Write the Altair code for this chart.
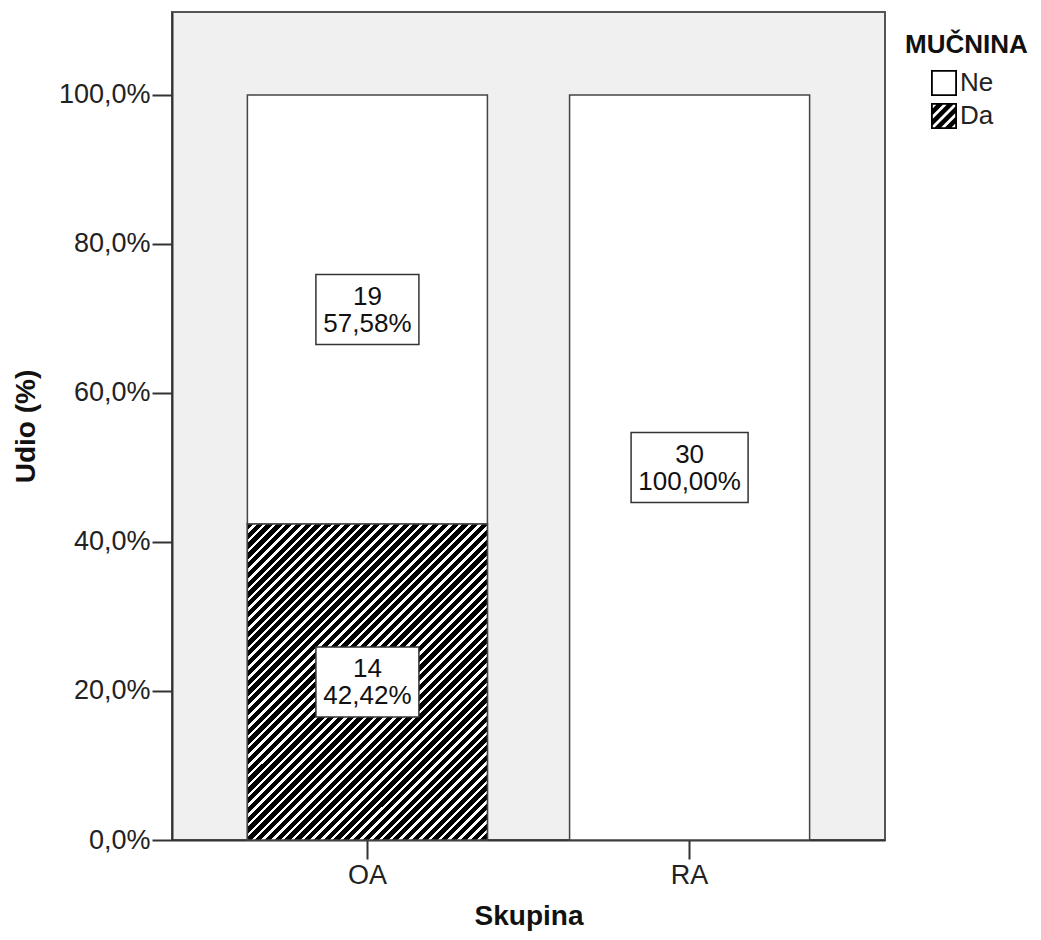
import altair as alt
import pandas as pd

# ---- data ----
groups = ["OA", "OA", "RA", "RA"]
categories = ["Ne", "Da", "Ne", "Da"]
counts = [19, 14, 30, 0]
percents = [57.58, 42.42, 100.00, 0.00]
legend_items = ["Ne", "Da"]
y_ticks = [0, 20, 40, 60, 80, 100]

df = pd.DataFrame({"Skupina": groups, "cat": categories, "count": counts, "pct": percents})
df["order"] = df["cat"].map({"Da": 0, "Ne": 1})
df = df.sort_values(["Skupina", "order"]).reset_index(drop=True)
df["y1"] = df.groupby("Skupina")["pct"].cumsum()
df["y0"] = df["y1"] - df["pct"]
df["mid"] = (df["y0"] + df["y1"]) / 2
df["label"] = [[str(c), f"{p:.2f}".replace(".", ",") + "%"] for c, p in zip(df["count"], df["pct"])]

FONT = "Liberation Sans"


# ---- hatch fill for the bar (striped linear gradient) ----
def hatch(n, x2=1.0, y2=1.0, white=0.36):
    stops = []
    for i in range(n):
        a = i / n
        b = (i + 1 - white) / n
        c = (i + 1) / n
        stops += [
            {"offset": a, "color": "black"},
            {"offset": b, "color": "black"},
            {"offset": b, "color": "white"},
            {"offset": c, "color": "white"},
        ]
    return {"gradient": "linear", "x1": 0, "y1": 0, "x2": x2, "y2": y2, "stops": stops}


bar_hatch = hatch(67, 1.0, 1.317)


# ---- legend symbol paths (unit square -1..1) ----
def clip(poly, f):
    out = []
    n = len(poly)
    for i in range(n):
        p, q = poly[i], poly[(i + 1) % n]
        fp, fq = f(p), f(q)
        if fp >= 0:
            out.append(p)
        if (fp >= 0) != (fq >= 0):
            t = fp / (fp - fq)
            out.append((p[0] + t * (q[0] - p[0]), p[1] + t * (q[1] - p[1])))
    return out


def area(poly):
    s = 0
    for i in range(len(poly)):
        x1, y1 = poly[i]
        x2, y2 = poly[(i + 1) % len(poly)]
        s += x1 * y2 - x2 * y1
    return s / 2


def to_path(poly, hole=False):
    if hole and area(poly) > 0:
        poly = poly[::-1]
    if not hole and area(poly) < 0:
        poly = poly[::-1]
    return "M" + "L".join(f"{x:.3f},{y:.3f}" for x, y in poly) + "Z"


outer = [(-1, -1), (1, -1), (1, 1), (-1, 1)]
k_in = 0.86
inner = [(-k_in, -k_in), (k_in, -k_in), (k_in, k_in), (-k_in, k_in)]
ne_path = to_path(outer) + to_path(inner, hole=True)
da_path = to_path(outer)
for k in range(-2, 3):
    c0 = k * 0.8 - 0.15
    c1 = k * 0.8 + 0.15
    poly = clip(inner, lambda p, c0=c0: p[0] + p[1] - c0)
    poly = clip(poly, lambda p, c1=c1: c1 - p[0] - p[1])
    if len(poly) >= 3 and abs(area(poly)) > 1e-4:
        da_path += to_path(poly, hole=True)

x_enc = alt.X(
    "Skupina:N",
    scale=alt.Scale(paddingInner=0.255, paddingOuter=0.234),
    axis=alt.Axis(
        title="Skupina", labelAngle=0, tickSize=19, labelPadding=3,
        labelFontSize=27, labelFont=FONT, labelColor="#222",
        titleFontSize=28, titleFont=FONT, titleFontWeight="bold", titleColor="#111",
        titlePadding=14, domainColor="#333", domainWidth=2, tickColor="#333", tickWidth=2,
    ),
)
y_scale = alt.Scale(domain=[0, 111.14], nice=False, zero=True)
y_axis = alt.Axis(
    title="Udio (%)", values=y_ticks, grid=False, tickSize=20, labelPadding=2,
    labelExpr="replace(format(datum.value, '.1f'), '.', ',') + '%'",
    labelFontSize=27, labelFont=FONT, labelColor="#222",
    titleFontSize=28, titleFont=FONT, titleFontWeight="bold", titleColor="#111",
    titlePadding=18, domainColor="#333", domainWidth=2, tickColor="#333", tickWidth=2,
)

base = alt.Chart(df)

bars = base.transform_filter("datum.pct > 0").mark_bar(
    fill="white", stroke="#444", strokeWidth=1.5
).encode(
    x=x_enc,
    y=alt.Y("y0:Q", scale=y_scale, axis=y_axis),
    y2="y1:Q",
)
hatched = base.transform_filter("datum.cat === 'Da' && datum.pct > 0").mark_bar(
    fill=bar_hatch, stroke="#444", strokeWidth=1.5
).encode(x="Skupina:N", y="y0:Q", y2="y1:Q")

boxes = base.transform_filter("datum.count > 0").mark_point(
    filled=True, fill="white", stroke="#333", strokeWidth=1.5, opacity=1
).encode(
    x="Skupina:N",
    y="mid:Q",
    shape=alt.condition(
        "datum.Skupina === 'RA'",
        alt.value("M-1,-0.598L1,-0.598L1,0.598L-1,0.598Z"),
        alt.value("M-1,-0.68L1,-0.68L1,0.68L-1,0.68Z"),
    ),
    size=alt.condition("datum.Skupina === 'RA'", alt.value(13689), alt.value(10609)),
)
texts = base.transform_filter("datum.count > 0").mark_text(
    font=FONT, fontSize=26, lineHeight=27, color="#111", align="center", baseline="middle", dy=-12.5
).encode(x="Skupina:N", y="mid:Q", text="label")

# legend carrier: no marks drawn, only the shape legend
legend_layer = base.transform_filter("false").mark_point(
    filled=True, color="black", opacity=1
).encode(
    x="Skupina:N",
    y="mid:Q",
    shape=alt.Shape(
        "cat:N",
        scale=alt.Scale(domain=legend_items, range=[ne_path, da_path]),
        legend=alt.Legend(
            title="MUČNINA", orient="none", legendX=733, legendY=20, padding=0,
            titleFont=FONT, titleFontSize=26, titleFontWeight="bold", titleColor="#111",
            titlePadding=12,
            labelFont=FONT, labelFontSize=26, labelColor="#222", labelOffset=3,
            symbolSize=676, symbolFillColor="black", symbolStrokeWidth=0, symbolOpacity=1,
            symbolOffset=26, rowPadding=7,
        ),
    ),
)

chart = alt.layer(bars, hatched, boxes, texts, legend_layer).properties(
    width=713, height=828,
    autosize=alt.AutoSizeParams(type="none"),
    padding={"left": 164, "top": 4, "right": 148, "bottom": 92},
).configure_view(
    fill="#f0f0f0", stroke="#555", strokeWidth=2
)

chart.save("out.html", embed_options={"renderer": "svg", "actions": False})
